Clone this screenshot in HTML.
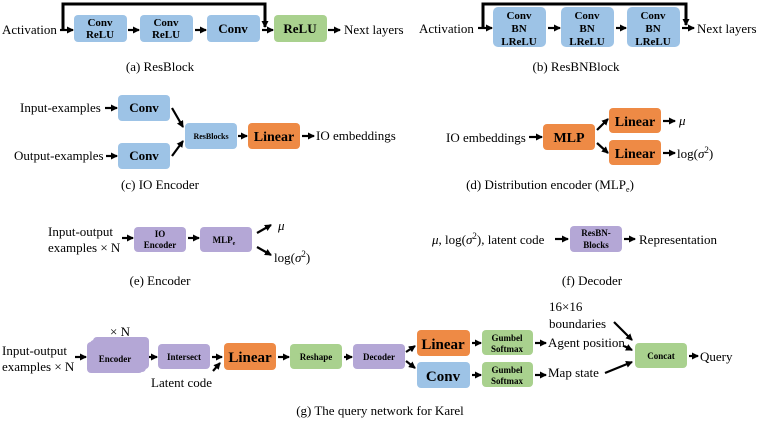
<!DOCTYPE html>
<html><head><meta charset="utf-8"><style>
html,body{margin:0;padding:0;background:#fff}
svg{display:block}
text{font-family:"Liberation Serif",serif;fill:#000}
.b{font-weight:bold;text-anchor:middle}
.l{font-size:13px}
.c{font-size:13px;text-anchor:middle}
</style></head><body>
<svg width="762" height="422" viewBox="0 0 762 422" xmlns="http://www.w3.org/2000/svg">
<defs>
<marker id="a" markerWidth="7" markerHeight="7" refX="6" refY="3.5" orient="auto" markerUnits="userSpaceOnUse"><path d="M0,0 L7,3.5 L0,7 z" fill="#000"/></marker>
</defs>
<g stroke="#000" stroke-width="2.2" fill="none" marker-end="url(#a)">
<!-- a -->
<line x1="60" y1="30" x2="73" y2="30"/>
<line x1="128" y1="30" x2="139" y2="30"/>
<line x1="195" y1="30" x2="206" y2="30"/>
<line x1="262" y1="30" x2="273" y2="30"/>
<polyline points="63,30 63,4 265,4 265,27" stroke-width="3"/>
<line x1="328" y1="30" x2="340" y2="30"/>
<!-- b -->
<line x1="478" y1="28" x2="492" y2="28"/>
<line x1="548" y1="28" x2="560" y2="28"/>
<line x1="616" y1="28" x2="626" y2="28"/>
<line x1="682" y1="28" x2="694" y2="28"/>
<polyline points="483,28 483,4 686,4 686,25" stroke-width="3"/>
<!-- c -->
<line x1="105" y1="108" x2="117" y2="108"/>
<line x1="106" y1="156" x2="117" y2="156"/>
<line x1="172" y1="108" x2="183" y2="127"/>
<line x1="172" y1="156" x2="183" y2="141"/>
<line x1="238" y1="136" x2="247" y2="136"/>
<line x1="302" y1="136" x2="314" y2="136"/>
<!-- d -->
<line x1="529" y1="137" x2="542" y2="137"/>
<line x1="597" y1="130" x2="608" y2="119"/>
<line x1="597" y1="143" x2="608" y2="153"/>
<line x1="663" y1="121" x2="675" y2="121"/>
<line x1="663" y1="153" x2="675" y2="153"/>
<!-- e -->
<line x1="122" y1="238" x2="133" y2="238"/>
<line x1="188" y1="238" x2="199" y2="238"/>
<line x1="257" y1="233" x2="271" y2="225"/>
<line x1="257" y1="247" x2="271" y2="255"/>
<!-- f -->
<line x1="555" y1="239" x2="568" y2="239"/>
<line x1="624" y1="239" x2="635" y2="239"/>
<!-- g -->
<line x1="75" y1="357" x2="86" y2="357"/>
<line x1="149" y1="357" x2="157" y2="357"/>
<line x1="212" y1="357" x2="222" y2="357"/>
<line x1="213" y1="371" x2="220" y2="363"/>
<line x1="278" y1="357" x2="289" y2="357"/>
<line x1="344" y1="357" x2="352" y2="357"/>
<line x1="406" y1="352" x2="415" y2="346"/>
<line x1="406" y1="361" x2="415" y2="368"/>
<line x1="472" y1="343" x2="481" y2="343"/>
<line x1="472" y1="375" x2="481" y2="375"/>
<line x1="535" y1="343" x2="546" y2="343"/>
<line x1="535" y1="375" x2="546" y2="375"/>
<line x1="614" y1="322" x2="632" y2="340"/>
<line x1="624" y1="346" x2="632" y2="350"/>
<line x1="605" y1="373" x2="632" y2="362"/>
<line x1="689" y1="356" x2="698" y2="356"/>
</g>
<g stroke="none">
<rect x="74" y="15" width="53" height="27" rx="4" fill="#9DC3E6"/>
<rect x="140" y="15" width="53" height="27" rx="4" fill="#9DC3E6"/>
<rect x="207" y="15" width="53" height="27" rx="4" fill="#9DC3E6"/>
<rect x="274" y="15" width="53" height="27" rx="4" fill="#A9D18E"/>
<rect x="493" y="7" width="53" height="40" rx="5" fill="#9DC3E6"/>
<rect x="561" y="7" width="53" height="40" rx="5" fill="#9DC3E6"/>
<rect x="627" y="7" width="53" height="40" rx="5" fill="#9DC3E6"/>
<rect x="118" y="95" width="52" height="26" rx="4" fill="#9DC3E6"/>
<rect x="118" y="143" width="52" height="26" rx="4" fill="#9DC3E6"/>
<rect x="185" y="123" width="52" height="26" rx="4" fill="#9DC3E6"/>
<rect x="248" y="123" width="52" height="26" rx="4" fill="#EE8A45"/>
<rect x="543" y="124" width="52" height="26" rx="4" fill="#EE8A45"/>
<rect x="609" y="108" width="52" height="25" rx="4" fill="#EE8A45"/>
<rect x="609" y="140" width="52" height="25" rx="4" fill="#EE8A45"/>
<rect x="134" y="227" width="52" height="25" rx="4" fill="#B4A7D6"/>
<rect x="200" y="227" width="52" height="25" rx="4" fill="#B4A7D6"/>
<rect x="570" y="226" width="52" height="26" rx="4" fill="#B4A7D6"/>
<rect x="93" y="337" width="56" height="32" rx="4" fill="#B4A7D6"/>
<rect x="90" y="340" width="56" height="32" rx="4" fill="#B4A7D6"/>
<rect x="87" y="342" width="56" height="31" rx="4" fill="#B4A7D6"/>
<rect x="158" y="344" width="52" height="25" rx="4" fill="#B4A7D6"/>
<rect x="224" y="343" width="52" height="27" rx="4" fill="#EE8A45"/>
<rect x="290" y="344" width="52" height="25" rx="4" fill="#A9D18E"/>
<rect x="353" y="344" width="52" height="25" rx="4" fill="#B4A7D6"/>
<rect x="417" y="330" width="53" height="26" rx="4" fill="#EE8A45"/>
<rect x="417" y="362" width="53" height="26" rx="4" fill="#9DC3E6"/>
<rect x="482" y="330" width="51" height="25" rx="4" fill="#A9D18E"/>
<rect x="482" y="362" width="51" height="25" rx="4" fill="#A9D18E"/>
<rect x="635" y="343" width="52" height="25" rx="4" fill="#A9D18E"/>
</g>
<g class="b" font-size="11">
<text x="100" y="26" class="b">Conv</text><text x="100" y="38" class="b">ReLU</text>
<text x="166" y="26" class="b">Conv</text><text x="166" y="38" class="b">ReLU</text>
<text x="233" y="33" class="b" font-size="13">Conv</text>
<text x="300" y="33" class="b" font-size="13">ReLU</text>
<text x="519" y="19" class="b">Conv</text><text x="519" y="32" class="b">BN</text><text x="519" y="45" class="b">LReLU</text>
<text x="587" y="19" class="b">Conv</text><text x="587" y="32" class="b">BN</text><text x="587" y="45" class="b">LReLU</text>
<text x="653" y="19" class="b">Conv</text><text x="653" y="32" class="b">BN</text><text x="653" y="45" class="b">LReLU</text>
<text x="144" y="112" class="b" font-size="13">Conv</text>
<text x="144" y="160" class="b" font-size="13">Conv</text>
<text x="211" y="139" class="b" font-size="8">ResBlocks</text>
<text x="274" y="141" class="b" font-size="14">Linear</text>
<text x="569" y="142" class="b" font-size="14">MLP</text>
<text x="635" y="126" class="b" font-size="14">Linear</text>
<text x="635" y="158" class="b" font-size="14">Linear</text>
<text x="160" y="237" class="b" font-size="9">IO</text><text x="160" y="248" class="b" font-size="9">Encoder</text>
<text x="224" y="243" class="b" font-size="9">MLP<tspan font-size="6" dy="2">e</tspan></text>
<text x="596" y="236" class="b" font-size="9">ResBN-</text><text x="596" y="248" class="b" font-size="9">Blocks</text>
<text x="115" y="362" class="b" font-size="9">Encoder</text>
<text x="184" y="360" class="b" font-size="9">Intersect</text>
<text x="250" y="362" class="b" font-size="15">Linear</text>
<text x="316" y="360" class="b" font-size="9">Reshape</text>
<text x="379" y="360" class="b" font-size="9">Decoder</text>
<text x="443" y="349" class="b" font-size="15">Linear</text>
<text x="443" y="381" class="b" font-size="15">Conv</text>
<text x="507" y="341" class="b" font-size="9">Gumbel</text><text x="507" y="352" class="b" font-size="9">Softmax</text>
<text x="507" y="373" class="b" font-size="9">Gumbel</text><text x="507" y="384" class="b" font-size="9">Softmax</text>
<text x="661" y="359" class="b" font-size="9">Concat</text>
</g>
<g class="l">
<text x="2" y="34">Activation</text>
<text x="344" y="34">Next layers</text>
<text x="419" y="33">Activation</text>
<text x="697" y="33">Next layers</text>
<text x="20" y="112">Input-examples</text>
<text x="14" y="160">Output-examples</text>
<text x="316" y="140">IO embeddings</text>
<text x="446" y="142">IO embeddings</text>
<text x="679" y="125" font-style="italic">μ</text>
<text x="677" y="158">log(<tspan font-style="italic">σ</tspan><tspan font-size="9" dy="-5">2</tspan><tspan dy="5">)</tspan></text>
<text x="48" y="236">Input-output</text>
<text x="48" y="252">examples × N</text>
<text x="278" y="230" font-style="italic">μ</text>
<text x="274" y="262">log(<tspan font-style="italic">σ</tspan><tspan font-size="9" dy="-5">2</tspan><tspan dy="5">)</tspan></text>
<text x="432" y="244"><tspan font-style="italic">μ</tspan>, log(<tspan font-style="italic">σ</tspan><tspan font-size="9" dy="-5">2</tspan><tspan dy="5">), latent code</tspan></text>
<text x="639" y="244">Representation</text>
<text x="2" y="355">Input-output</text>
<text x="2" y="371">examples × N</text>
<text x="110" y="336">× N</text>
<text x="151" y="387">Latent code</text>
<text x="549" y="311">16×16</text>
<text x="549" y="328">boundaries</text>
<text x="548" y="347">Agent position</text>
<text x="548" y="377">Map state</text>
<text x="700" y="361">Query</text>
</g>
<g class="c">
<text x="160" y="71">(a) ResBlock</text>
<text x="576" y="71">(b) ResBNBlock</text>
<text x="160" y="189">(c) IO Encoder</text>
<text x="550" y="189">(d) Distribution encoder (MLP<tspan font-size="8" dy="3">e</tspan><tspan dy="-3">)</tspan></text>
<text x="160" y="285">(e) Encoder</text>
<text x="592" y="285">(f) Decoder</text>
<text x="380" y="415">(g) The query network for Karel</text>
</g>
</svg>
</body></html>
